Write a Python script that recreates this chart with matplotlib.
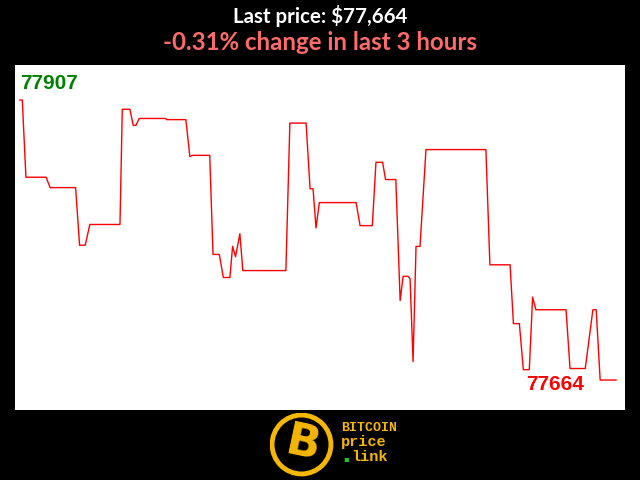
import matplotlib
matplotlib.use("Agg")
import matplotlib.pyplot as plt
from matplotlib import font_manager
from matplotlib.patches import Circle

# minutes since start of the 3 hour window, and price in USD
minutes = [0, 0.7, 1.8, 7.9, 9.1, 16.8, 18.0, 19.7, 21.1, 30.2,
           30.9, 33.2, 34.2, 35.0, 36.0, 44.0, 44.3, 50.1, 51.3, 52.2,
           57.3, 58.3, 60.2, 61.4, 63.4, 64.2, 65.1, 66.4, 67.3, 80.3,
           81.5, 86.4, 87.6, 88.5, 89.4, 90.4, 101.5, 102.7, 106.4, 107.5,
           109.5, 110.4, 113.5, 114.8, 115.7, 117.2, 117.8, 118.7, 119.6, 120.8,
           122.6, 140.7, 141.9, 148.0, 149.0, 150.8, 152.0, 153.8, 154.8, 155.8,
           164.9, 166.1, 170.7, 173.0, 174.0, 175.2, 180.0]
prices = [77907, 77907, 77840, 77840, 77831, 77831, 77781, 77781, 77799, 77799,
          77899, 77899, 77885, 77885, 77891, 77891, 77890, 77890, 77858, 77859,
          77859, 77773, 77773, 77753, 77753, 77780, 77771, 77791, 77759, 77759,
          77887, 77887, 77830, 77830, 77796, 77818, 77818, 77798, 77798, 77853,
          77853, 77838, 77838, 77733, 77754, 77754, 77752, 77680, 77780, 77780,
          77864, 77864, 77764, 77764, 77713, 77713, 77673, 77673, 77736, 77725,
          77725, 77674, 77674, 77725, 77725, 77664, 77664]

first_label = "77907"
last_label = "77664"
title_price = "Last price: $77,664"
title_change = "-0.31% change in last 3 hours"

# a narrow bold face is closest to the original title font
names = {f.name for f in font_manager.fontManager.ttflist}
if "Liberation Sans Narrow" in names:
    title_font, size1, size2 = "Liberation Sans Narrow", 17, 19.6
else:
    title_font, size1, size2 = "Lato", 14.8, 17.3

fig = plt.figure(figsize=(6.4, 4.8), dpi=100, facecolor="black")

ax = fig.add_axes([15 / 640, 70 / 480, 610 / 640, 345 / 480])
ax.set_facecolor("white")
ax.plot(minutes, prices, color="red", linewidth=1)
ax.set_xlim(-1.5, 182.7)
ax.set_ylim(77638, 77937.4)
ax.set_xticks([])
ax.set_yticks([])
for s in ax.spines.values():
    s.set_visible(False)

ax.text(0.008, 0.945, first_label, transform=ax.transAxes, color="green",
        fontsize=15, fontweight="bold", family="Liberation Sans",
        ha="left", va="center")
ax.text(0.933, 0.075, last_label, transform=ax.transAxes, color="red",
        fontsize=15, fontweight="bold", family="Liberation Sans",
        ha="right", va="center")

fig.text(0.5, 1 - 16 / 480, title_price, color="white", fontsize=size1,
         fontweight="bold", family=title_font, ha="center", va="center")
fig.text(0.5, 1 - 42 / 480, title_change, color="#ff6b6b", fontsize=size2,
         fontweight="bold", family=title_font, ha="center", va="center")

# logo
gold = "#f5b700"
lax = fig.add_axes([269.5 / 640, 3.5 / 480, 64 / 640, 64 / 480])
lax.set_xlim(-1, 1)
lax.set_ylim(-1, 1)
lax.axis("off")
lax.add_patch(Circle((0, 0), 0.92, facecolor="black", edgecolor=gold, linewidth=3.5))
lax.text(0.05, 0, "B", color=gold, fontsize=32, fontweight="bold",
         family="DejaVu Sans", ha="center", va="center", rotation=-12)

fig.text(341 / 640, 1 - 431 / 480, "BITCOIN", color=gold, fontsize=9.5,
         fontweight="bold", family="Liberation Mono", ha="left", va="baseline")
fig.text(341 / 640, 1 - 446 / 480, "price", color=gold, fontsize=11,
         fontweight="bold", family="Liberation Mono", ha="left", va="baseline")
fig.text(351 / 640, 1 - 461 / 480, "link", color=gold, fontsize=11,
         fontweight="bold", family="Liberation Mono", ha="left", va="baseline")
fig.text(346 / 640, 1 - 458.5 / 480, "\u25aa", color="#22cc22", fontsize=6,
         family="DejaVu Sans", ha="center", va="center")

fig.savefig("out.png", dpi=100, facecolor="black")
